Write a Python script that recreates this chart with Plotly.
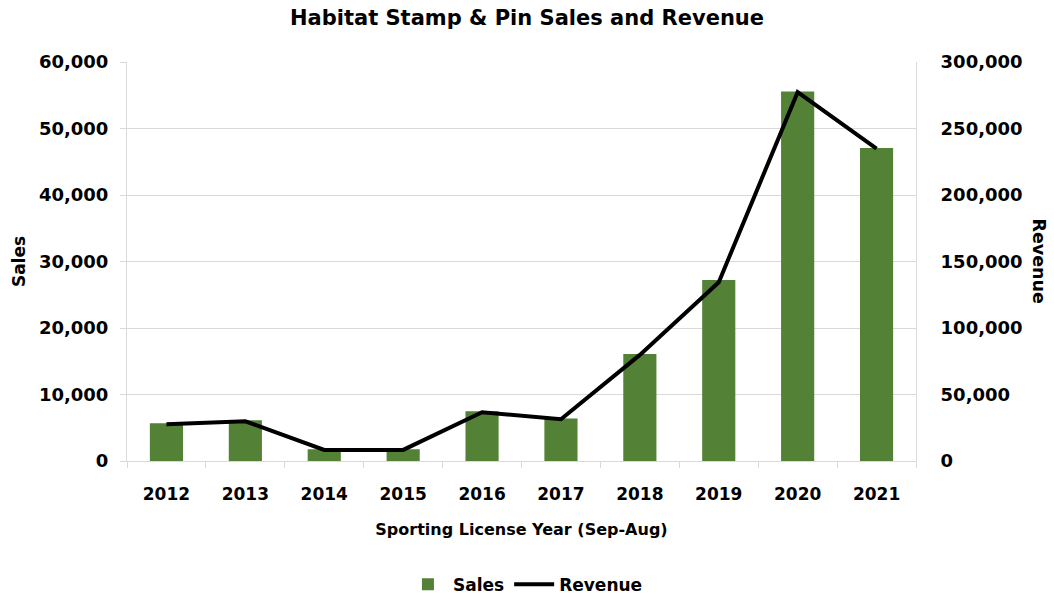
import plotly.graph_objects as go

years = ["2012", "2013", "2014", "2015", "2016", "2017", "2018", "2019", "2020", "2021"]
sales = [5670, 6120, 1770, 1770, 7480, 6400, 16100, 27200, 55560, 47050]
revenue = [27600, 29850, 8330, 8330, 36700, 31400, 79800, 134400, 277300, 234800]

FONT = "DejaVu Sans"
GREEN = "#538135"
GRID = "#d9d9d9"

fig = go.Figure()
fig.add_trace(go.Bar(x=years, y=sales, name="<b>Sales</b>", marker=dict(color=GREEN, line=dict(width=0)), yaxis="y"))
fig.add_trace(go.Scatter(x=years, y=revenue, name="<b>Revenue</b>", mode="lines",
                         line=dict(color="black", width=4), yaxis="y2"))

fig.update_layout(
    width=1054, height=600,
    margin=dict(l=127, r=138, t=62, b=139, autoexpand=False),
    paper_bgcolor="white", plot_bgcolor="white",
    font=dict(family=FONT, color="black"),
    title=dict(text="<b>Habitat Stamp & Pin Sales and Revenue</b>", x=0.5, xanchor="center",
               y=0.97, yanchor="middle", font=dict(size=21, family=FONT)),
    bargap=0.58,
    showlegend=True,
    legend=dict(orientation="h", x=0.505, xanchor="center", y=-0.31, yanchor="middle",
                font=dict(size=17, family=FONT), itemwidth=40, tracegroupgap=0),
    xaxis=dict(type="category", showline=True, linecolor=GRID, linewidth=1,
               ticks="outside", tickson="boundaries", ticklen=6, tickcolor=GRID,
               tickfont=dict(size=17, family=FONT), ticklabelstandoff=18,
               title=dict(text="<b>Sporting License Year (Sep-Aug)</b>", font=dict(size=16, family=FONT), standoff=20),
               tickprefix="<b>", ticksuffix="</b>"),
    yaxis=dict(range=[0, 60000], dtick=10000, tickformat=",", showgrid=True, gridcolor=GRID,
               showline=True, linecolor=GRID, ticks="outside", ticklen=6, tickcolor=GRID,
               tickfont=dict(size=18, family=FONT), tickprefix="<b>", ticksuffix="</b>",
               ticklabelstandoff=8,
               title=dict(text="<b>Sales</b>", font=dict(size=17, family=FONT), standoff=8),
               zeroline=False),
    yaxis2=dict(range=[0, 300000], dtick=50000, tickformat=",", overlaying="y", side="right",
                showgrid=False, showline=True, linecolor=GRID, ticks="",
                tickfont=dict(size=18, family=FONT), tickprefix="<b>", ticksuffix="</b>",
                ticklabelstandoff=20, zeroline=False),
    annotations=[dict(text="<b>Revenue</b>", textangle=90, x=1.156, y=0.5, xref="paper", yref="paper",
                      showarrow=False, font=dict(size=17.5, family=FONT), xanchor="center", yanchor="middle")],
)

fig.write_html("out.html")
